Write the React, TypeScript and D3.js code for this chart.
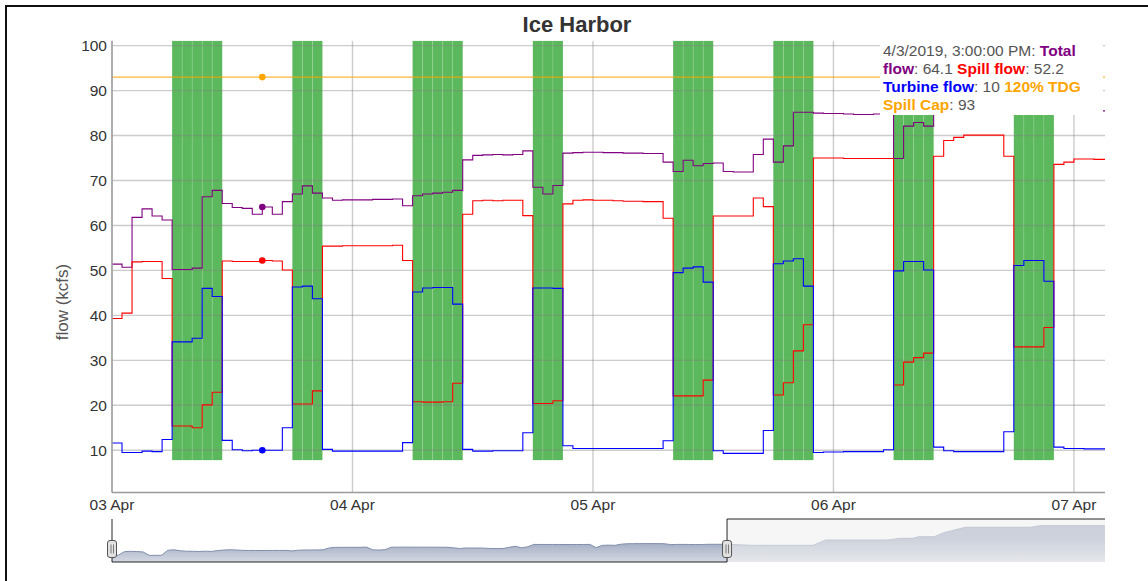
import React from "react";
import * as d3 from "d3";

// ---------- data (hourly, starting 03 Apr 2019 00:00) ----------
const START = new Date(2019, 3, 3, 0, 0, 0);
const HOURS_SHOWN = 99.1;
const NAV_HOURS = 160;

const totalFlow = [
  51.4, 50.7, 61.8, 63.7, 62.1, 61.2, 50.2, 50.2, 50.5, 66.4, 67.8, 64.9,
  64.0, 63.8, 62.5, 64.1, 62.5, 65.3, 67.0, 68.8, 67.2, 66.1, 65.6, 65.7,
  65.7, 65.7, 65.8, 65.8, 65.9, 64.4, 66.6, 67.0, 67.2, 67.4, 67.8, 74.6,
  75.6, 75.7, 75.8, 75.7, 75.8, 76.6, 68.5, 67.0, 68.9, 76.1, 76.2, 76.3,
  76.3, 76.2, 76.2, 76.1, 76.1, 76.0, 76.0, 74.1, 72.0, 74.5, 73.3, 73.8,
  73.9, 72.0, 71.9, 71.9, 75.8, 79.2, 74.1, 77.7, 85.2, 85.2, 85.0, 84.9,
  84.9, 84.8, 84.7, 84.7, 84.8, 84.9, 74.9, 82.1, 82.9, 82.1, 85.2, 85.3,
  85.4, 85.4, 85.3, 85.3, 85.2, 85.0, 84.7, 84.7, 84.7, 84.7, 84.7, 84.7,
  85.5, 85.5, 85.5, 85.5,
];
const spillFlow = [
  39.3, 40.5, 51.9, 52.0, 52.0, 48.2, 15.4, 15.4, 15.0, 20.1, 22.9, 52.1,
  52.0, 52.0, 52.0, 52.2, 52.1, 50.1, 20.3, 20.3, 23.2, 55.4, 55.4, 55.5,
  55.5, 55.5, 55.5, 55.5, 55.6, 52.2, 20.8, 20.7, 20.7, 20.8, 24.9, 62.5,
  65.5, 65.6, 65.5, 65.6, 65.6, 62.2, 20.4, 20.4, 21.0, 64.8, 65.6, 65.7,
  65.6, 65.6, 65.5, 65.4, 65.4, 65.3, 65.3, 61.6, 22.1, 22.1, 22.1, 25.6,
  62.1, 62.1, 62.1, 62.1, 66.1, 64.2, 22.3, 25.0, 32.1, 37.9, 75.0, 75.0,
  75.0, 74.9, 74.9, 74.9, 74.9, 74.9, 24.5, 29.6, 30.6, 31.6, 75.4, 78.9,
  79.6, 80.1, 80.1, 80.1, 80.1, 75.4, 33.0, 33.0, 33.0, 37.3, 73.6, 74.1,
  74.8, 74.8, 74.7, 74.7,
];
const turbineFlow = [
  11.6, 9.5, 9.5, 9.8, 9.7, 12.4, 34.1, 34.1, 34.9, 46.0, 44.2, 12.2,
  10.1, 9.9, 10.0, 10.0, 10.0, 15.0, 46.3, 46.5, 43.7, 10.2, 9.8, 9.8,
  9.8, 9.8, 9.8, 9.8, 9.8, 11.7, 45.2, 46.1, 46.2, 46.2, 42.5, 10.2,
  9.8, 9.8, 9.9, 9.9, 9.9, 13.9, 46.1, 46.1, 46.0, 11.0, 10.4, 10.4,
  10.4, 10.4, 10.4, 10.4, 10.4, 10.4, 10.4, 12.1, 49.5, 50.5, 50.8, 47.4,
  9.9, 9.3, 9.3, 9.3, 9.3, 14.4, 51.5, 52.1, 52.6, 46.5, 9.5, 9.6,
  9.6, 9.7, 9.7, 9.7, 9.7, 10.1, 49.9, 52.0, 52.0, 50.1, 10.7, 9.9,
  9.7, 9.7, 9.7, 9.7, 9.7, 14.1, 51.1, 52.2, 52.2, 47.6, 10.7, 10.4,
  10.4, 10.3, 10.3, 10.3,
];
const spillCap = 93;

// green blocks: start hour and length in hours
const greenStartHour = [6, 18, 30, 42, 56, 66, 78, 90];
const greenLength = [5, 3, 5, 3, 4, 4, 4, 4];
const greenFloor = 7.8;

const yTicks = [10, 20, 30, 40, 50, 60, 70, 80, 90, 100];
const xTickLabels = ["03 Apr", "04 Apr", "05 Apr", "06 Apr", "07 Apr"];
const highlightHour = 15;
const highlightLabel = "4/3/2019, 3:00:00 PM";

// navigator tail (data beyond the zoomed window), mean flow
const navTailHours = [103, 113, 115, 125, 127, 129, 130, 132.5, 134, 137.5, 148, 149.5, 160];
const navTailValues = [54.7, 54.7, 66.1, 66.1, 69.7, 69.7, 73.1, 73.1, 81.7, 93.3, 93.3, 96.7, 96.7];

const FONT = "'Liberation Sans', Arial, Helvetica, sans-serif";

export default function App() {
  const W = 1148, H = 581;
  const L = 112, R = 1105, T = 40.7, B = 492.5;
  const hd = (h: number) => new Date(START.getTime() + h * 3600000);
  const x = d3.scaleTime().domain([hd(0), hd(HOURS_SHOWN)]).range([L, R]);
  const y = d3.scaleLinear().domain([0.6, 101.1]).range([B, T]);

  const stepLine = d3
    .line<[number, number]>()
    .x((d) => x(hd(d[0])))
    .y((d) => y(d[1]))
    .curve(d3.curveStepAfter);
  const seriesPath = (vals: number[]) => {
    const pts: [number, number][] = vals.map((v, i) => [i, v]);
    pts.push([HOURS_SHOWN + 1, vals[vals.length - 1]]);
    return stepLine(pts) || "";
  };

  const dayTicks = xTickLabels.map((lab, i) => ({ lab, x: x(hd(i * 24)) }));

  // navigator
  const NT = 519, NB = 562;
  const nx = d3.scaleLinear().domain([0, NAV_HOURS]).range([L, R]);
  const ny = d3.scaleLinear().domain([19, 111]).range([NB, NT]);
  const navPts: [number, number][] = totalFlow
    .map((t, i) => [i, (t + spillFlow[i] + turbineFlow[i]) / 3] as [number, number])
    .concat(navTailHours.map((h, i) => [h, navTailValues[i]] as [number, number]));
  const navArea = d3.area<[number, number]>().x((d) => nx(d[0])).y0(NB).y1((d) => ny(d[1]))(navPts) || "";
  const navLine = d3.line<[number, number]>().x((d) => nx(d[0])).y((d) => ny(d[1]))(navPts) || "";
  const selR = nx(HOURS_SHOWN);

  const handle = (cx: number, key: string) => (
    <g key={key}>
      <rect x={cx - 4.5} y={540.5} width={9} height={17} rx={2.5} fill="#e2e2e2" stroke="#555" strokeWidth={1} />
      <line x1={cx - 1} x2={cx - 1} y1={544.5} y2={553.5} stroke="#777" strokeWidth={1} />
      <line x1={cx + 1.5} x2={cx + 1.5} y1={544.5} y2={553.5} stroke="#777" strokeWidth={1} />
    </g>
  );

  const hx = x(hd(highlightHour));
  const gray = "#555";
  const lx = 883;

  return (
    <svg width={W} height={H} style={{ position: "absolute", left: 0, top: 0, background: "#fff" }} fontFamily={FONT}>
      <defs>
        <clipPath id="plotClip">
          <rect x={L} y={T} width={R - L} height={B - T} />
        </clipPath>
        <linearGradient id="navGrad" gradientUnits="userSpaceOnUse" x1={0} y1={538} x2={0} y2={NB}>
          <stop offset="0" stopColor="#98a3bb" />
          <stop offset="1" stopColor="#d4d9e3" />
        </linearGradient>
      </defs>

      {/* outer frame */}
      <path d={`M6,${H} V6 H${W}`} fill="none" stroke="#111" strokeWidth={2} />

      {/* title */}
      <text x={577} y={32} textAnchor="middle" fontSize={22} fontWeight="bold" fill="#333">Ice Harbor</text>

      <g clipPath="url(#plotClip)">
        {/* green blocks */}
        {greenStartHour.map((s, bi) =>
          d3.range(greenLength[bi]).map((k) => (
            <rect
              key={`g${bi}-${k}`}
              x={x(hd(s + k))}
              y={T}
              width={x(hd(s + k + 1)) - x(hd(s + k))}
              height={y(greenFloor) - T}
              fill="#5cb85c"
            />
          ))
        )}
        {greenStartHour.map((s, bi) =>
          d3.range(1, greenLength[bi]).map((k) => (
            <line key={`s${bi}-${k}`} x1={x(hd(s + k))} x2={x(hd(s + k))} y1={T} y2={y(greenFloor)} stroke="rgba(255,255,255,0.14)" strokeWidth={1} />
          ))
        )}

        {/* gridlines */}
        {yTicks.map((t) => (
          <line key={`hy${t}`} x1={L} x2={R} y1={y(t)} y2={y(t)} stroke="rgba(128,128,128,0.4)" strokeWidth={1.4} />
        ))}
        {dayTicks.slice(1).map((d) => (
          <line key={`vx${d.lab}`} x1={d.x} x2={d.x} y1={T} y2={B} stroke="rgba(128,128,128,0.4)" strokeWidth={1.4} />
        ))}

        {/* spill cap */}
        <line x1={L} x2={R} y1={y(spillCap)} y2={y(spillCap)} stroke="#ffa500" strokeWidth={1} />

        {/* series */}
        <path d={seriesPath(totalFlow)} fill="none" stroke="#800080" strokeWidth={1.1} />
        <path d={seriesPath(spillFlow)} fill="none" stroke="#ff0000" strokeWidth={1.1} />
        <path d={seriesPath(turbineFlow)} fill="none" stroke="#0000ff" strokeWidth={1.1} />

        {/* highlighted points */}
        <circle cx={hx} cy={y(spillCap)} r={3.3} fill="#ffa500" />
        <circle cx={hx} cy={y(totalFlow[highlightHour])} r={3.3} fill="#800080" />
        <circle cx={hx} cy={y(spillFlow[highlightHour])} r={3.3} fill="#ff0000" />
        <circle cx={hx} cy={y(turbineFlow[highlightHour])} r={3.3} fill="#0000ff" />
      </g>

      {/* axes */}
      <line x1={L} x2={L} y1={T} y2={B} stroke="#9a9a9a" strokeWidth={1.6} />
      <line x1={L} x2={R} y1={B} y2={B} stroke="#9a9a9a" strokeWidth={1.6} />
      {yTicks.map((t) => (
        <text key={`yl${t}`} x={107} y={y(t) + 5.5} textAnchor="end" fontSize={15.5} fill="#333">{t}</text>
      ))}
      {dayTicks.map((d) => (
        <text key={`xl${d.lab}`} x={d.x} y={510} textAnchor="middle" fontSize={15.5} fill="#333">{d.lab}</text>
      ))}
      <text transform="translate(68,302) rotate(-90)" textAnchor="middle" fontSize={17} fill="#555">flow (kcfs)</text>

      {/* legend */}
      <rect x={880} y={38} width={223} height={77} fill="#fff" />
      <g fontSize={15.5}>
        <text x={lx} y={56}>
          <tspan fill={gray}>{highlightLabel}: </tspan>
          <tspan fill="#800080" fontWeight="bold">Total</tspan>
        </text>
        <text x={lx} y={74}>
          <tspan fill="#800080" fontWeight="bold">flow</tspan>
          <tspan fill={gray}>: {totalFlow[highlightHour]} </tspan>
          <tspan fill="#ff0000" fontWeight="bold">Spill flow</tspan>
          <tspan fill={gray}>: {spillFlow[highlightHour]}</tspan>
        </text>
        <text x={lx} y={92}>
          <tspan fill="#0000ff" fontWeight="bold">Turbine flow</tspan>
          <tspan fill={gray}>: {turbineFlow[highlightHour]} </tspan>
          <tspan fill="#ffa500" fontWeight="bold">120% TDG</tspan>
        </text>
        <text x={lx} y={110}>
          <tspan fill="#ffa500" fontWeight="bold">Spill Cap</tspan>
          <tspan fill={gray}>: {spillCap}</tspan>
        </text>
      </g>

      {/* navigator */}
      <path d={navArea} fill="url(#navGrad)" />
      <path d={navLine} fill="none" stroke="#808fab" strokeWidth={1} />
      <rect x={selR} y={NT} width={R - selR} height={NB - NT} fill="rgba(240,240,240,0.6)" />
      <path d={`M${L},${NT} V${NB} H${selR} V${NT} H${R}`} fill="none" stroke="#000" strokeWidth={1} opacity={0.85} />
      {handle(L, "hl")}
      {handle(selR, "hr")}
    </svg>
  );
}
